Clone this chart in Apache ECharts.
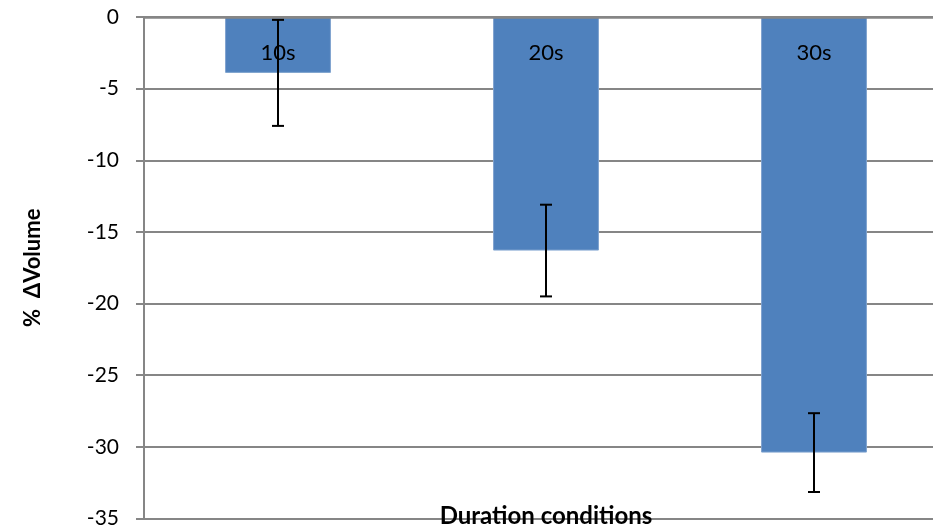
<!DOCTYPE html>
<html>
<head>
<meta charset="utf-8">
<script src="https://cdn.jsdelivr.net/npm/echarts@6/dist/echarts.min.js"></script>
<style>html,body{margin:0;padding:0;background:#fff;}#chart{width:933px;height:529px;}</style>
</head>
<body>
<div id="chart"></div>
<script>
var categories = ['10s', '20s', '30s'];
var meanValues = [-3.9, -16.3, -30.4];
var errorValues = [3.7, 3.2, 2.75];
var yTicks = { min: -35, max: 0, interval: 5 };

var chart = echarts.init(document.getElementById('chart'));
var errData = categories.map(function (c, i) {
  return [i, meanValues[i] + errorValues[i], meanValues[i] - errorValues[i]];
});
var font = 'Lato, "Open Sans", sans-serif';
chart.setOption({
  animation: false,
  grid: { left: 144, top: 17, right: -15, bottom: 10.5, containLabel: false, outerBoundsMode: 'none' },
  xAxis: {
    type: 'category',
    data: categories,
    position: 'top',
    z: 10,
    axisLine: { lineStyle: { color: '#868686', width: 2.5 } },
    axisTick: { show: false },
    axisLabel: { inside: true, color: '#000', fontSize: 22, fontFamily: font, margin: 25 },
    splitLine: { show: false }
  },
  yAxis: {
    type: 'value',
    min: yTicks.min, max: yTicks.max, interval: yTicks.interval,
    name: '%  ΔVolume',
    nameLocation: 'middle',
    nameGap: 100,
    nameTextStyle: { color: '#000', fontSize: 22, fontWeight: 'bold', fontFamily: font },
    axisLine: { show: true, lineStyle: { color: '#868686', width: 2 } },
    axisTick: { show: true, length: 8, lineStyle: { color: '#868686', width: 2 } },
    axisLabel: { color: '#000', fontSize: 21, fontFamily: font, margin: 25 },
    splitLine: { show: true, lineStyle: { color: '#868686', width: 2 } }
  },
  series: [
    {
      type: 'bar',
      data: meanValues,
      barWidth: '39.5%',
      itemStyle: { color: '#4F81BD', borderColor: '#7FA3CF', borderWidth: 1 }
    },
    {
      type: 'custom',
      z: 11,
      data: errData,
      renderItem: function (params, api) {
        var x = api.value(0);
        var hi = api.coord([x, api.value(1)]);
        var lo = api.coord([x, api.value(2)]);
        var w = 6;
        var st = { stroke: '#000', lineWidth: 2 };
        return {
          type: 'group',
          children: [
            { type: 'line', shape: { x1: hi[0], y1: hi[1], x2: lo[0], y2: lo[1] }, style: st },
            { type: 'line', shape: { x1: hi[0] - w, y1: hi[1], x2: hi[0] + w, y2: hi[1] }, style: st },
            { type: 'line', shape: { x1: lo[0] - w, y1: lo[1], x2: lo[0] + w, y2: lo[1] }, style: st }
          ]
        };
      }
    }
  ],
  graphic: [
    {
      type: 'text',
      x: 546, y: 516, z: 100,
      style: { text: 'Duration conditions', fill: '#000', font: 'bold 24px ' + font, align: 'center', verticalAlign: 'middle' }
    }
  ]
});
</script>
</body>
</html>
